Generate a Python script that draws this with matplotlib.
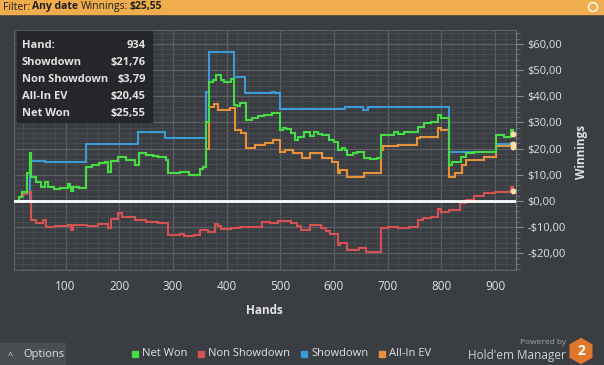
import matplotlib.pyplot as plt
from matplotlib.patches import Rectangle, RegularPolygon
from matplotlib.ticker import MultipleLocator, FuncFormatter

plt.rcParams['font.family'] = ['Open Sans', 'DejaVu Sans']

# cumulative winnings as (hand, $) break points
sd_hands = [0, 34, 61, 139, 235, 285, 362, 368, 414, 435, 484, 490, 499, 620, 654, 663, 814, 902, 934]
sd_vals = [0, 15.3, 14.8, 21.7, 26.2, 24.0, 41.8, 56.8, 47.5, 41.2, 41.8, 41.2, 35.2, 36.0, 34.7, 36.0,
           18.5, 21.76, 21.76]

nsd_hands = [0, 14, 20, 29, 36, 45, 58, 64, 80, 104, 111, 114, 140, 160, 179, 185, 198, 205, 230, 250,
             272, 291, 313, 320, 340, 350, 365, 378, 384, 390, 408, 425, 439, 465, 480, 496, 520, 532,
             539, 555, 575, 585, 593, 608, 611, 624, 646, 660, 687, 700, 720, 740, 757, 765, 780, 793,
             800, 815, 835, 845, 860, 880, 900, 929, 934]
nsd_vals = [0, 1.5, 2.5, 3.4, -7.3, -8.5, -7.3, -9.8, -9.4, -9.2, -11.0, -9.2, -9.6, -9.0, -10.5, -6.8,
            -4.7, -6.0, -7.3, -7.9, -8.5, -13.0, -12.5, -13.5, -13.0, -11.1, -11.8, -9.0, -9.6, -10.8,
            -10.5, -10.0, -9.8, -8.2, -8.6, -7.5, -8.6, -9.6, -11.0, -9.2, -10.2, -11.4, -12.6, -16.8,
            -16.2, -18.7, -18.0, -19.4, -10.4, -9.8, -10.3, -9.8, -7.3, -6.7, -6.2, -3.2, -4.1, -3.4,
            -0.9, 0.4, 1.7, 3.0, 3.4, 5.5, 3.79]

net_hands = [0, 11, 14, 18, 29, 33, 36, 45, 55, 61, 67, 79, 90, 104, 108, 111, 114, 125, 139, 150, 162,
             173, 179, 185, 198, 213, 229, 236, 250, 262, 272, 288, 291, 313, 330, 350, 356, 362, 368,
             375, 381, 390, 396, 408, 414, 420, 425, 437, 447, 459, 470, 484, 499, 505, 510, 520, 527,
             533, 545, 555, 562, 570, 577, 590, 600, 608, 615, 621, 624, 635, 642, 655, 667, 680, 687,
             700, 711, 720, 730, 740, 757, 767, 780, 793, 799, 814, 820, 836, 845, 860, 879, 902, 917,
             929, 934]
net_vals = [0, 0, 1.5, 3.4, 10.6, 18.3, 9.3, 7.4, 5.5, 7.4, 5.5, 4.5, 5.0, 6.5, 5.2, 3.6, 5.2, 4.8,
            13.1, 13.8, 14.3, 15.0, 11.2, 15.3, 16.9, 15.7, 13.8, 18.2, 17.6, 17.0, 16.9, 15.7, 10.6, 11.0,
            10.0, 12.0, 13.0, 30.0, 45.5, 46.2, 48.1, 46.2, 45.5, 46.5, 36.7, 36.2, 37.3, 31.0, 31.8, 32.5,
            33.0, 33.5, 27.1, 27.8, 27.3, 25.9, 23.3, 24.5, 26.5, 24.8, 26.5, 25.6, 25.2, 23.3, 22.6, 19.5,
            20.1, 19.5, 17.6, 18.2, 18.6, 16.3, 15.9, 16.4, 25.2, 25.0, 26.5, 25.5, 26.2, 26.5, 28.4, 29.7,
            30.3, 32.9, 31.6, 13.8, 15.0, 16.9, 18.2, 18.5, 18.8, 25.2, 24.5, 27.1, 25.55]

# all-in EV sits under net won until the first all-in near hand 360
aiev_hands = [0, 11, 14, 18, 29, 33, 36, 45, 55, 61, 67, 79, 90, 104, 108, 111, 114, 125, 139, 150, 162,
              173, 179, 185, 198, 213, 229, 236, 250, 262, 272, 288, 291, 313, 330, 350, 356, 362, 368,
              377, 384, 406, 415, 427, 437, 452, 471, 487, 499, 508, 524, 540, 555, 577, 596, 608, 611,
              624, 655, 687, 692, 720, 754, 760, 793, 799, 814, 825, 838, 845, 879, 902, 929, 934]
aiev_vals = [0, 0, 1.5, 3.4, 10.6, 18.3, 9.3, 7.4, 5.5, 7.4, 5.5, 4.5, 5.0, 6.5, 5.2, 3.6, 5.2, 4.8,
             13.1, 13.8, 14.3, 15.0, 11.2, 15.3, 16.9, 15.7, 13.8, 18.2, 17.6, 17.0, 16.9, 15.7, 10.6, 11.0,
             10.0, 12.0, 13.0, 20.0, 35.7, 37.0, 34.7, 35.5, 27.1, 26.0, 20.1, 21.5, 22.0, 23.3, 18.8, 19.5,
             18.2, 16.3, 18.2, 16.3, 15.0, 10.6, 11.8, 9.3, 10.6, 19.5, 20.8, 21.3, 24.0, 24.5, 27.8, 27.1,
             9.3, 10.6, 13.8, 15.7, 16.9, 20.8, 22.1, 20.45]

series = [
    ('All-In EV', aiev_hands, aiev_vals, '#e8913a'),
    ('Showdown', sd_hands, sd_vals, '#3c9ad6'),
    ('Non Showdown', nsd_hands, nsd_vals, '#d65252'),
    ('Net Won', net_hands, net_vals, '#45dc45'),
]
legend_order = ['Net Won', 'Non Showdown', 'Showdown', 'All-In EV']
info_rows = [('Hand:', '934'), ('Showdown', '$21,76'), ('Non Showdown', '$3,79'),
             ('All-In EV', '$20,45'), ('Net Won', '$25,55')]

W, H = 604, 365
BG = '#3a3d42'
TXT = '#e2e2e2'


def fx(px):
    return px / W


def fy(py):
    return 1 - py / H


def money(v, pos=None):
    s = f'{abs(v):.2f}'.replace('.', ',')
    return ('-$' if v < 0 else '$') + s


fig = plt.figure(figsize=(W / 100, H / 100), dpi=100, facecolor=BG)
ax = fig.add_axes([fx(14), fy(270), fx(516) - fx(14), fy(30) - fy(270)])
ax.set_facecolor(BG)

for name, hx, hv, col in series:
    ax.plot(hx, hv, drawstyle='steps-post', color=col, lw=1.5, solid_joinstyle='miter')
    ax.plot(hx[-1], hv[-1], 'o', ms=3.2, color='#f7dfa8', zorder=5)
ax.axhline(0, color='white', lw=2, zorder=4)

ax.set_xlim(4, 939)
ax.set_ylim(-26.4, 65.3)
ax.xaxis.set_major_locator(MultipleLocator(100))
ax.xaxis.set_minor_locator(MultipleLocator(20))
ax.yaxis.set_major_locator(MultipleLocator(10))
ax.yaxis.set_minor_locator(MultipleLocator(2))
ax.yaxis.set_major_formatter(FuncFormatter(money))
ax.yaxis.tick_right()
ax.grid(which='major', color='#5d6065', lw=0.9)
ax.grid(which='minor', color='#4a4d52', lw=0.6)
ax.set_axisbelow(True)
ax.tick_params(axis='x', which='both', length=0, pad=7, labelcolor=TXT, labelsize=8.5)
ax.tick_params(axis='y', which='major', length=5, color='#8a8d92', pad=3, labelcolor=TXT, labelsize=8)
ax.tick_params(axis='y', which='minor', length=3, color='#6a6d72')
ax.set_xticks(range(100, 1000, 100))
for s in ax.spines.values():
    s.set_color('#5d6065')
ax.spines['right'].set_color('#7a7d82')

fig.text(fx(264), fy(311), 'Hands', color=TXT, fontsize=8.5, fontweight='bold', ha='center', va='center')
fig.text(fx(582), fy(152), 'Winnings', color=TXT, fontsize=8.5, fontweight='bold', rotation=90,
         ha='center', va='center')

# top filter bar
fig.patches.append(Rectangle((0, fy(14)), 1, 14 / H, transform=fig.transFigure, color='#f0ad4e', zorder=0))
for txt, bold, xp in [('Filter:', False, 3), ('Any date', True, 32), ('Winnings:', False, 81), ('$25,55', True, 130)]:
    fig.text(fx(xp), fy(7), txt, color='#1e1e1e', fontsize=7.5, fontweight='bold' if bold else 'normal',
             ha='left', va='center')
fig.patches.append(plt.Circle((5.93, (H - 7) / 100), 0.045, transform=fig.dpi_scale_trans,
                              fc='none', ec='white', lw=1))
fig.text(fx(593), fy(7.5), '˅', color='white', fontsize=6, ha='center', va='center')

# info box
fig.patches.append(Rectangle((fx(17), fy(122)), fx(152) - fx(17), 91 / H, transform=fig.transFigure,
                             color='#242528', alpha=0.92, zorder=3))
for i, (lab, val) in enumerate(info_rows):
    yy = fy(46 + i * 16.8)
    fig.text(fx(22), yy, lab, color=TXT, fontsize=8, fontweight='bold', ha='left', va='center', zorder=4)
    fig.text(fx(146), yy, val, color=TXT, fontsize=8, fontweight='bold', ha='right', va='center', zorder=4)

# legend
cols = {name: col for name, _, _, col in series}
leg_x = {'Net Won': 132, 'Non Showdown': 198, 'Showdown': 301, 'All-In EV': 379}
for name in legend_order:
    xp = leg_x[name]
    fig.patches.append(Rectangle((xp / 100, (H - 357) / 100), 0.06, 0.06, transform=fig.dpi_scale_trans,
                                 color=cols[name]))
    fig.text(fx(xp + 10), fy(354), name, color=TXT, fontsize=8, ha='left', va='center')

# options button
fig.patches.append(Rectangle((0, 0), fx(65), 22 / H, transform=fig.transFigure, color='#4a4d52'))
fig.text(fx(10), fy(355), '^', color=TXT, fontsize=6.5, ha='center', va='center')
fig.text(fx(23), fy(355), 'Options', color=TXT, fontsize=8, ha='left', va='center')

# branding
fig.text(fx(566), fy(343), 'Powered by', color='#a8a8a8', fontsize=6, ha='right', va='center')
fig.text(fx(566), fy(355), "Hold'em Manager", color='#cfcfcf', fontsize=8.5, ha='right', va='center')
fig.patches.append(RegularPolygon((5.81, (H - 351) / 100), 6, radius=0.125, transform=fig.dpi_scale_trans,
                                  color='#e0782c'))
fig.text(fx(581), fy(351), '2', color='white', fontsize=10, fontweight='bold', ha='center', va='center')

fig.savefig('out.png', dpi=100, facecolor=BG)
